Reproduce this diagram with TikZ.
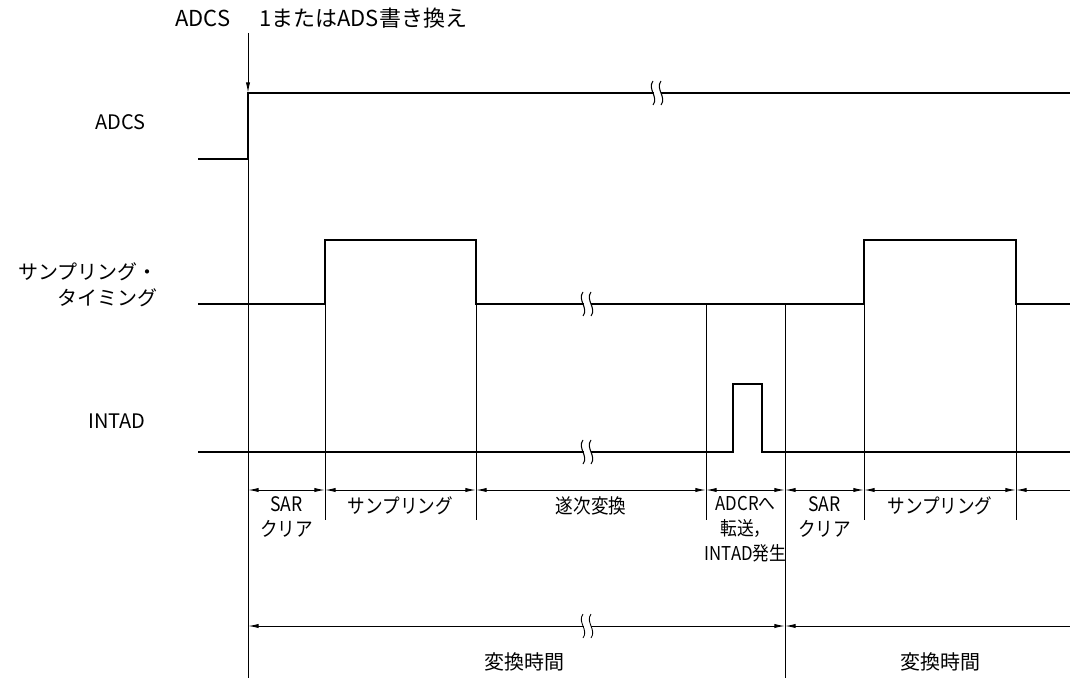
\documentclass[tikz,border=0pt]{standalone}
\usepackage{fontspec}
\setmainfont{Noto Sans CJK JP}
\newfontfamily\condfont[FakeStretch=0.88]{Noto Sans CJK JP}
\usetikzlibrary{arrows.meta}
\begin{document}
\begin{tikzpicture}[x=0.75pt,y=-0.75pt,
  sig/.style={line width=1.9pt, line join=miter},
  thinline/.style={line width=0.75pt},
  dimline/.style={line width=0.75pt},
  tip/.tip={Latex[length=8pt,width=3.2pt]},
  lbl/.style={font=\fontsize{15}{19.5}\selectfont, inner sep=0pt},
  blbl/.style={font=\condfont\fontsize{15}{18.8}\selectfont, align=center, inner sep=0pt, anchor=north},
  toplbl/.style={font=\fontsize{16.5}{20}\selectfont, inner sep=0pt},
  tlbl/.style={font=\fontsize{15}{18}\selectfont, inner sep=0pt}]
\path[use as bounding box] (0,0) rectangle (1070,681);

% ---------- labels ----------
\node[toplbl, anchor=west] (top1) at (175,18) {ADCS};
\node[toplbl, anchor=west] (top2) at (259,18) {1またはADS書き換え};
\node[lbl, anchor=east] (lADCS) at (146,122) {ADCS};
\node[lbl, anchor=east, align=right] (lSMP) at (158,285) {サンプリング・\\タイミング};
\node[lbl, anchor=east] (lINT) at (146,421) {INTAD};

% ---------- coordinates ----------
\coordinate (arT) at (248,33);
\coordinate (a0) at (198,159); \coordinate (a1) at (248,159);
\coordinate (a2) at (248,93);  \coordinate (a3) at (1070,93);
\coordinate (s0) at (198,304); \coordinate (s1) at (325,304);
\coordinate (s2) at (325,240); \coordinate (s3) at (476,240);
\coordinate (s4) at (476,304); \coordinate (s5) at (864,304);
\coordinate (s6) at (864,240); \coordinate (s7) at (1016,240);
\coordinate (s8) at (1016,304); \coordinate (s9) at (1070,304);
\coordinate (i0) at (198,452); \coordinate (i1) at (733,452);
\coordinate (i2) at (733,384); \coordinate (i3) at (762,384);
\coordinate (i4) at (762,452); \coordinate (i5) at (1070,452);

% vertical guide ends
\coordinate (g1b) at (248,678);
\coordinate (g2b) at (325,520);
\coordinate (g3b) at (476,520);
\coordinate (g4t) at (706,304); \coordinate (g4b) at (706,520);
\coordinate (g5t) at (785,304); \coordinate (g5b) at (785,678);
\coordinate (g6b) at (864,520);
\coordinate (g7b) at (1016,520);

% dimension points
\foreach \n/\x in {d1/248,d2/325,d3/476,d4/706,d5/785,d6/864,d7/1016,d8/1070}
  \coordinate (\n) at (\x,490);
\coordinate (c1) at (248,626); \coordinate (c2) at (785,626); \coordinate (c3) at (1070,626);

% ---------- guide lines ----------
\draw[thinline, -{tip}] (arT) -- (a2);
\draw[thinline] (a1) -- (g1b);
\draw[thinline] (s1) -- (g2b);
\draw[thinline] (s4) -- (g3b);
\draw[thinline] (g4t) -- (g4b);
\draw[thinline] (g5t) -- (g5b);
\draw[thinline] (s5) -- (g6b);
\draw[thinline] (s8) -- (g7b);

% ---------- signals ----------
\draw[sig] (a0) -- (a1) -- (a2) -- (a3);
\draw[sig] (s0) -- (s1) -- (s2) -- (s3) -- (s4) -- (s5) -- (s6) -- (s7) -- (s8) -- (s9);
\draw[sig] (i0) -- (i1) -- (i2) -- (i3) -- (i4) -- (i5);

% ---------- dimension lines ----------
\draw[dimline, {tip}-{tip}] (d1) -- (d2);
\draw[dimline, {tip}-{tip}] (d2) -- (d3);
\draw[dimline, {tip}-{tip}] (d3) -- (d4);
\draw[dimline, {tip}-{tip}] (d4) -- (d5);
\draw[dimline, {tip}-{tip}] (d5) -- (d6);
\draw[dimline, {tip}-{tip}] (d6) -- (d7);
\draw[dimline, {tip}-] (d7) -- (d8);
\draw[dimline, {tip}-{tip}] (c1) -- (c2);
\draw[dimline, {tip}-] (c2) -- (c3);

% ---------- break marks ----------
\foreach \bx/\by/\lw in {657/93/0.8pt, 587/304/0.8pt, 587/452/0.8pt, 587/626/0.65pt}{
  \fill[white] (\bx-3.5,\by-4) rectangle (\bx+3.5,\by+4);
  \draw[line width=\lw] (\bx-4,\by-12) .. controls (\bx-10,\by-4) and (\bx+2,\by+4) .. (\bx-4,\by+12);
  \draw[line width=\lw] (\bx+4,\by-12) .. controls (\bx-2,\by-4) and (\bx+10,\by+4) .. (\bx+4,\by+12);
}

% ---------- bottom labels ----------
\node[blbl] (b1) at (286.5,496) {SAR\\クリア};
\node[blbl] (b2) at (400.5,496) {サンプリング};
\node[blbl] (b3) at (591,496) {遂次変換};
\node[blbl, font=\condfont\fontsize{14.3}{18.8}\selectfont] (b4) at (745.5,496) {ADCRへ\\転送，\\INTAD発生};
\node[blbl] (b5) at (824.5,496) {SAR\\クリア};
\node[blbl] (b6) at (940,496) {サンプリング};
\node[tlbl] (t1) at (524,662) {変換時間};
\node[tlbl] (t2) at (940,662) {変換時間};
\end{tikzpicture}
\end{document}
